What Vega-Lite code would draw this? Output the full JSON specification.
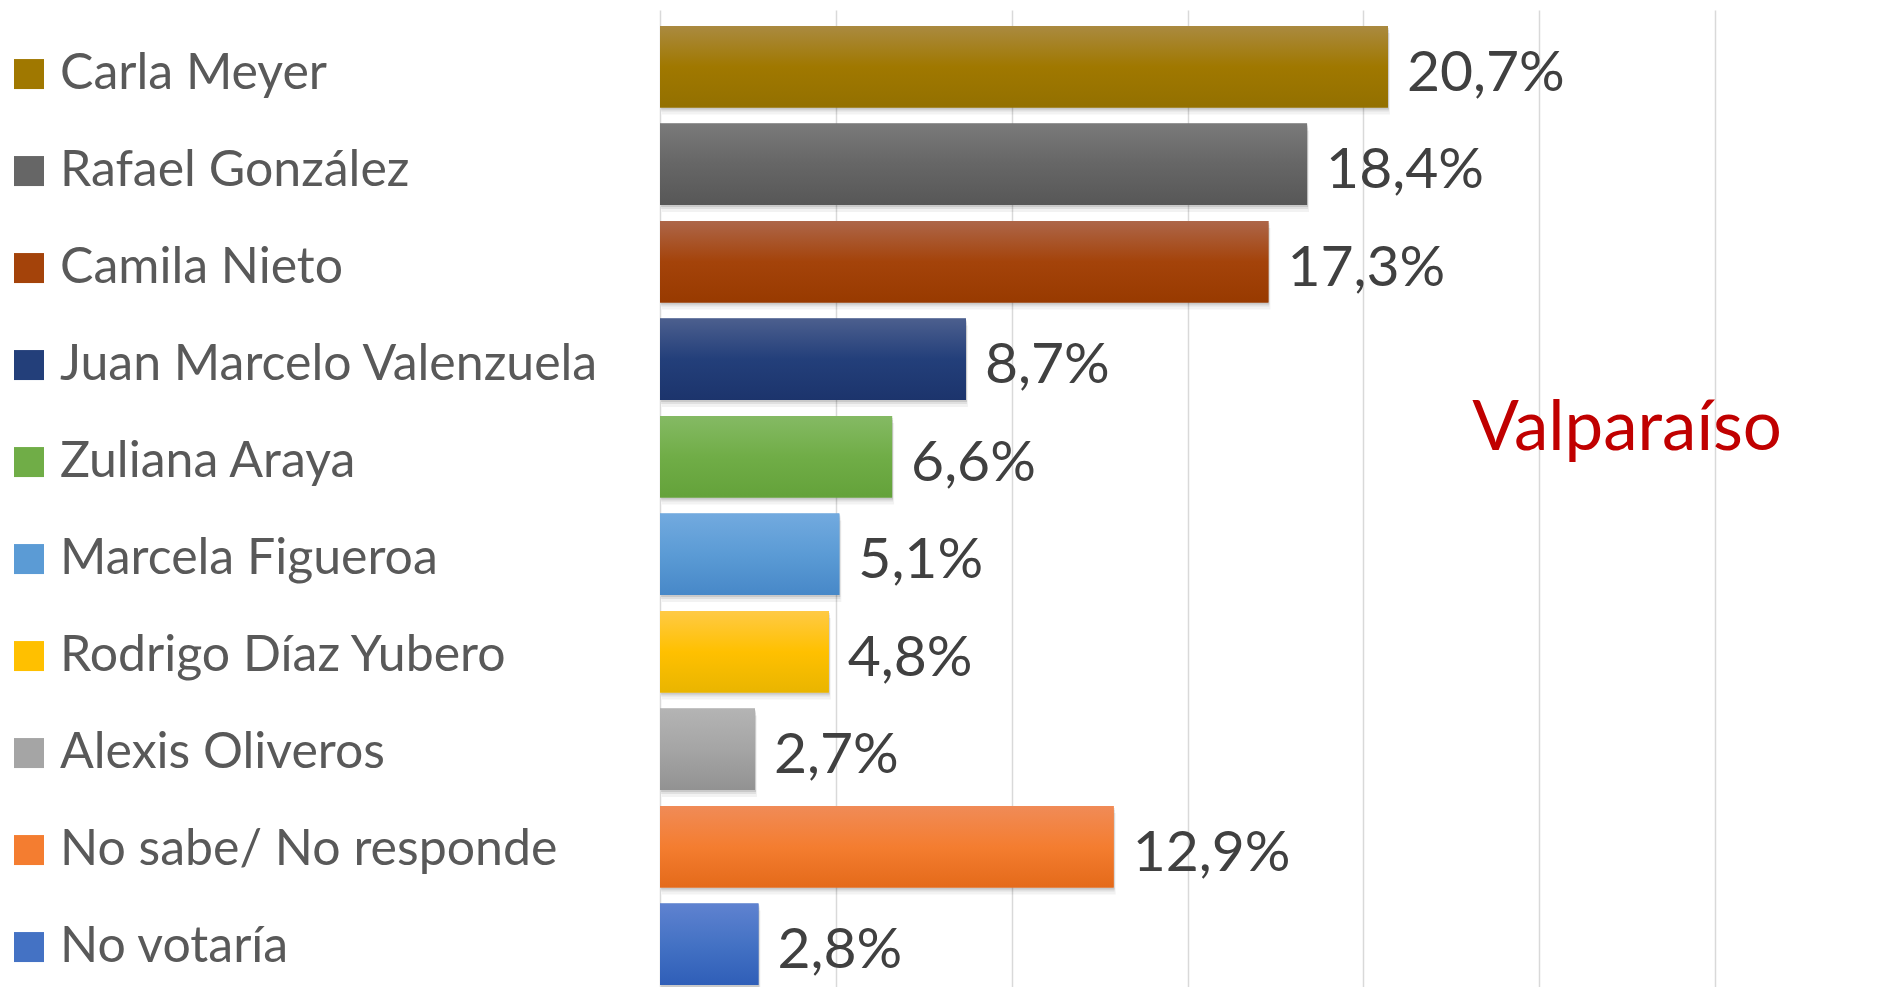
{
  "$schema": "https://vega.github.io/schema/vega-lite/v6.json",
  "width": 1055,
  "height": 977,
  "autosize": {"type": "none"},
  "padding": {"left": 660, "top": 10, "right": 162, "bottom": 0},
  "background": "white",
  "config": {
    "view": {"stroke": null},
    "font": "Lato",
    "locale": {"number": {"decimal": ",", "thousands": ".", "grouping": [3], "currency": ["", " €"]}}
  },
  "data": {
    "values": [
      {"name": "Carla Meyer", "pct": 0.207},
      {"name": "Rafael González", "pct": 0.184},
      {"name": "Camila Nieto", "pct": 0.173},
      {"name": "Juan Marcelo Valenzuela", "pct": 0.087},
      {"name": "Zuliana Araya", "pct": 0.066},
      {"name": "Marcela Figueroa", "pct": 0.051},
      {"name": "Rodrigo Díaz Yubero", "pct": 0.048},
      {"name": "Alexis Oliveros", "pct": 0.027},
      {"name": "No sabe/ No responde", "pct": 0.129},
      {"name": "No votaría", "pct": 0.028}
    ]
  },
  "encoding": {
    "y": {
      "field": "name",
      "type": "nominal",
      "sort": null,
      "axis": null,
      "scale": {
        "domain": ["Carla Meyer", "Rafael González", "Camila Nieto", "Juan Marcelo Valenzuela", "Zuliana Araya", "Marcela Figueroa", "Rodrigo Díaz Yubero", "Alexis Oliveros", "No sabe/ No responde", "No votaría"],
        "paddingInner": 0.164,
        "paddingOuter": 0.0923,
        "align": 0.889
      }
    },
    "x": {
      "field": "pct",
      "type": "quantitative",
      "scale": {"domain": [0, 0.3], "nice": false},
      "axis": {
        "values": [0, 0.05, 0.1, 0.15, 0.2, 0.25, 0.3],
        "grid": true,
        "gridColor": "#d9d9d9",
        "gridWidth": 1.5,
        "labels": false,
        "ticks": false,
        "domain": false,
        "title": null
      }
    }
  },
  "layer": [
    {"mark": {"type": "bar", "color": "black", "opacity": 0.05, "yOffset": 7, "xOffset": 2}},
    {"mark": {"type": "bar", "color": "black", "opacity": 0.07, "yOffset": 4, "xOffset": 1}},
    {"mark": {"type": "bar", "color": "black", "opacity": 0.1, "yOffset": 2, "xOffset": 1}},
    {
      "mark": {"type": "bar"},
      "encoding": {
        "color": {
          "field": "name",
          "type": "nominal",
          "scale": {
            "domain": ["Carla Meyer", "Rafael González", "Camila Nieto", "Juan Marcelo Valenzuela", "Zuliana Araya", "Marcela Figueroa", "Rodrigo Díaz Yubero", "Alexis Oliveros", "No sabe/ No responde", "No votaría"],
            "range": ["#A07800", "#666666", "#A4430A", "#233F7A", "#70AD47", "#5B9BD5", "#FFC000", "#A5A5A5", "#F47D30", "#4472C4"]
          },
          "legend": {
            "orient": "none",
            "legendX": -656,
            "legendY": 16,
            "title": null,
            "symbolType": "square",
            "symbolSize": 900,
            "symbolStrokeWidth": 0,
            "symbolOpacity": 1,
            "labelFontSize": 50,
            "labelFont": "Lato",
            "labelColor": "#595959",
            "labelOffset": 6,
            "labelLimit": 800,
            "clipHeight": 96.1,
            "rowPadding": 0,
            "padding": 0
          }
        }
      }
    },
    {
      "mark": {"type": "bar"},
      "encoding": {
        "fill": {
          "condition": [
            {"test": "datum.name === 'Carla Meyer'", "value": {"gradient": "linear", "x1": 0, "y1": 0, "x2": 0, "y2": 1, "stops": [{"offset": 0, "color": "#AA8A40"}, {"offset": 0.5, "color": "#A07800"}, {"offset": 1, "color": "#937000"}]}},
            {"test": "datum.name === 'Rafael González'", "value": {"gradient": "linear", "x1": 0, "y1": 0, "x2": 0, "y2": 1, "stops": [{"offset": 0, "color": "#7A7A7A"}, {"offset": 0.5, "color": "#666666"}, {"offset": 1, "color": "#575757"}]}},
            {"test": "datum.name === 'Camila Nieto'", "value": {"gradient": "linear", "x1": 0, "y1": 0, "x2": 0, "y2": 1, "stops": [{"offset": 0, "color": "#AD6649"}, {"offset": 0.5, "color": "#A4430A"}, {"offset": 1, "color": "#983A00"}]}},
            {"test": "datum.name === 'Juan Marcelo Valenzuela'", "value": {"gradient": "linear", "x1": 0, "y1": 0, "x2": 0, "y2": 1, "stops": [{"offset": 0, "color": "#4C5F8E"}, {"offset": 0.5, "color": "#233F7A"}, {"offset": 1, "color": "#1C346C"}]}},
            {"test": "datum.name === 'Zuliana Araya'", "value": {"gradient": "linear", "x1": 0, "y1": 0, "x2": 0, "y2": 1, "stops": [{"offset": 0, "color": "#85BA64"}, {"offset": 0.5, "color": "#70AD47"}, {"offset": 1, "color": "#64A23A"}]}},
            {"test": "datum.name === 'Marcela Figueroa'", "value": {"gradient": "linear", "x1": 0, "y1": 0, "x2": 0, "y2": 1, "stops": [{"offset": 0, "color": "#72AADF"}, {"offset": 0.5, "color": "#5B9BD5"}, {"offset": 1, "color": "#4788C8"}]}},
            {"test": "datum.name === 'Rodrigo Díaz Yubero'", "value": {"gradient": "linear", "x1": 0, "y1": 0, "x2": 0, "y2": 1, "stops": [{"offset": 0, "color": "#FFCA45"}, {"offset": 0.5, "color": "#FFC000"}, {"offset": 1, "color": "#E9B500"}]}},
            {"test": "datum.name === 'Alexis Oliveros'", "value": {"gradient": "linear", "x1": 0, "y1": 0, "x2": 0, "y2": 1, "stops": [{"offset": 0, "color": "#B4B4B4"}, {"offset": 0.5, "color": "#A5A5A5"}, {"offset": 1, "color": "#929292"}]}},
            {"test": "datum.name === 'No sabe/ No responde'", "value": {"gradient": "linear", "x1": 0, "y1": 0, "x2": 0, "y2": 1, "stops": [{"offset": 0, "color": "#F08B57"}, {"offset": 0.5, "color": "#F47D30"}, {"offset": 1, "color": "#E46A1A"}]}},
            {"test": "datum.name === 'No votaría'", "value": {"gradient": "linear", "x1": 0, "y1": 0, "x2": 0, "y2": 1, "stops": [{"offset": 0, "color": "#5F82D0"}, {"offset": 0.5, "color": "#4472C4"}, {"offset": 1, "color": "#2F5EB8"}]}}
          ],
          "value": "#999999"
        }
      }
    },
    {
      "mark": {"type": "text", "align": "left", "baseline": "middle", "dx": 19, "dy": 7, "fontSize": 57, "font": "Lato", "color": "#404040"},
      "encoding": {"text": {"field": "pct", "type": "quantitative", "format": ".1%"}}
    },
    {
      "data": {"values": [{"name": "Zuliana Araya", "pct": 0.231, "label": "Valparaíso"}]},
      "mark": {"type": "text", "align": "left", "baseline": "alphabetic", "dy": -7, "fontSize": 69, "font": "Lato", "color": "#C00000"},
      "encoding": {
        "text": {"field": "label", "type": "nominal"}
      }
    }
  ]
}
